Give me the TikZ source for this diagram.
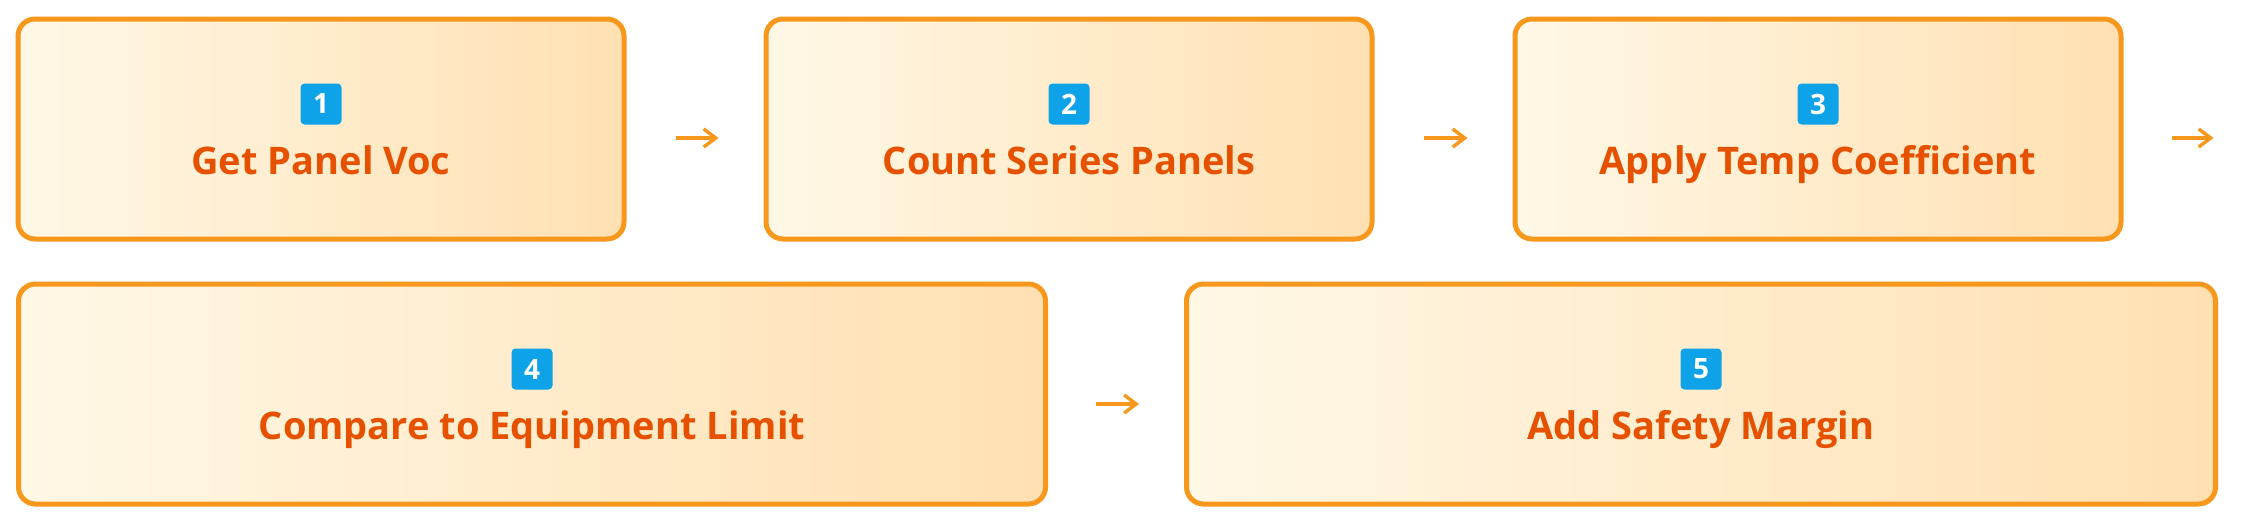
\documentclass[tikz,border=0pt]{standalone}
\usepackage{fontspec}
\setmainfont{Open Sans}
\usetikzlibrary{arrows.meta}
\definecolor{boxborder}{HTML}{F7981D}
\definecolor{fillL}{HTML}{FFF8E6}
\definecolor{fillR}{HTML}{FFE0B2}
\definecolor{txt}{HTML}{E65100}
\definecolor{badge}{HTML}{0EA2E8}
\tikzset{
  stepbox/.style={draw=boxborder, line width=2.5pt, rounded corners=8.5pt,
    left color=fillL, right color=fillR, minimum height=110pt, inner sep=0pt},
  badgebox/.style={fill=badge, rounded corners=2pt, minimum size=20.5pt, inner sep=0pt,
    text=white, font=\bfseries\fontsize{14}{14}\selectfont},
  steplabel/.style={anchor=base, text=txt, font=\bfseries\fontsize{19}{22}\selectfont, inner sep=0pt},
  flow/.style={draw=boxborder, line width=1.7pt, -{Straight Barb[length=6pt,width=9pt]}}
}
\begin{document}
\begin{tikzpicture}[x=0.5pt, y=-0.5pt]
\fill[white] (0,0) rectangle (2241,530);
\useasboundingbox (0,0) rectangle (2241,530);
% row 1
\node[stepbox, minimum width=303pt] (b1) at (321,129) {};
\node[stepbox, minimum width=303pt] (b2) at (1069,129) {};
\node[stepbox, minimum width=303pt] (b3) at (1818,129) {};
% row 2
\node[stepbox, minimum width=513.5pt] (b4) at (532,394) {};
\node[stepbox, minimum width=514.5pt] (b5) at (1701,394) {};
% badges and labels
\foreach \b/\n/\t in {b1/1/Get Panel Voc, b2/2/Count Series Panels, b3/3/Apply Temp Coefficient, b4/4/Compare to Equipment Limit, b5/5/Add Safety Margin}{
  \node[badgebox] (n\n) at ([yshift=12.5pt]\b.center) {\n};
  \node[steplabel] (t\n) at ([yshift=-22.5pt]\b.center) {\t};
}
% connectors
\coordinate (end3) at ([xshift=45pt,yshift=-4.5pt]b3.east);
\draw[flow] ([xshift=24.5pt,yshift=-4.5pt]b1.east) -- ([xshift=-22.5pt,yshift=-4.5pt]b2.west);
\draw[flow] ([xshift=24.5pt,yshift=-4.5pt]b2.east) -- ([xshift=-22.5pt,yshift=-4.5pt]b3.west);
\draw[flow] ([xshift=24pt,yshift=-4.5pt]b3.east) -- (end3);
\draw[flow] ([xshift=24pt,yshift=-5pt]b4.east) -- ([xshift=-22.5pt,yshift=-5pt]b5.west);
\end{tikzpicture}
\end{document}
